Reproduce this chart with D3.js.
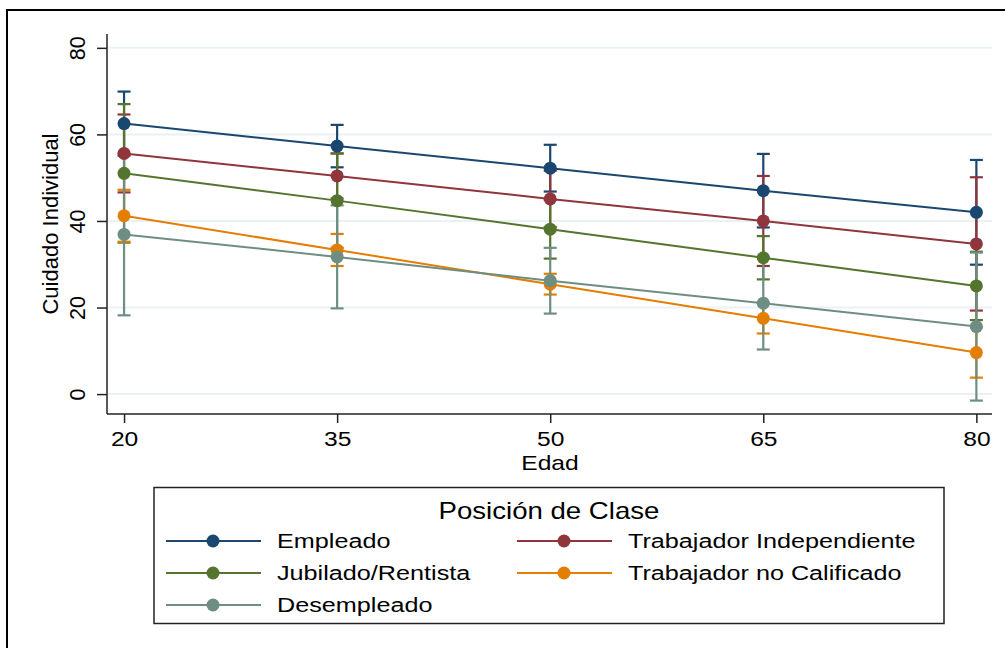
<!DOCTYPE html>
<html lang="es">
<head>
<meta charset="UTF-8">
<title>Cuidado Individual por Edad</title>
<script src="https://d3js.org/d3.v7.min.js"></script>
<style>
  body { margin: 0; background: #fff; }
  svg text { font-family: "Liberation Sans", Arial, Helvetica, sans-serif; fill: #000; }
</style>
</head>
<body>
<svg id="chart" width="1005" height="648"></svg>
<script>
// Datos
var edades = [20, 35, 50, 65, 80];
var yTicks = [0, 20, 40, 60, 80];
var clases = ["Empleado", "Trabajador Independiente", "Jubilado/Rentista", "Trabajador no Calificado", "Desempleado"];
var colores = ["#1a476f", "#90353b", "#55752f", "#e37e00", "#6e8e84"];

// valores predichos por clase
var empleado    = [62.5, 57.3, 52.2, 47.0, 42.0];
var independ    = [55.6, 50.4, 45.1, 40.0, 34.7];
var jubilado    = [51.0, 44.7, 38.1, 31.5, 25.0];
var noCalif     = [41.2, 33.3, 25.4, 17.5, 9.6];
var desempleado = [36.9, 31.7, 26.2, 21.0, 15.6];

// semiancho del intervalo de confianza
var ciEmpleado    = [7.4, 4.9, 5.4, 8.5, 12.1];
var ciIndepend    = [9.0, 5.2, 6.5, 10.4, 15.4];
var ciJubilado    = [16.0, 10.9, 6.8, 5.0, 7.9];
var ciNoCalif     = [6.0, 3.7, 2.4, 3.5, 5.8];
var ciDesempleado = [18.7, 11.9, 7.6, 10.7, 17.1];

var medias = [empleado, independ, jubilado, noCalif, desempleado];
var cis = [ciEmpleado, ciIndepend, ciJubilado, ciNoCalif, ciDesempleado];

var series = clases.map(function (c, i) {
    return {
        nombre: c,
        color: colores[i],
        puntos: edades.map(function (e, j) {
            return { x: e, y: medias[i][j], lo: medias[i][j] - cis[i][j], hi: medias[i][j] + cis[i][j] };
        })
    };
});

var svg = d3.select("#chart");

// marco exterior
svg.append("path")
    .attr("d", "M7,660 L7,10 L1010,10")
    .attr("fill", "none")
    .attr("stroke", "#000")
    .attr("stroke-width", 2);

// escalas
var x = d3.scaleLinear().domain([18.8, 81.1]).range([107, 992]);
var y = d3.scaleLinear().domain([-4.6, 83.2]).range([414, 34]);

// lineas de cuadricula
svg.append("g").selectAll("line")
    .data(yTicks)
    .enter().append("line")
    .attr("x1", 108).attr("x2", 992)
    .attr("y1", function (d) { return y(d); })
    .attr("y2", function (d) { return y(d); })
    .attr("stroke", "#eaf1f4")
    .attr("stroke-width", 2);

// eje Y
var ejeY = svg.append("g")
    .attr("transform", "translate(107,0)")
    .call(d3.axisLeft(y).tickValues(yTicks).tickSize(10).tickFormat(d3.format("d")));
ejeY.select(".domain").attr("stroke", "#222").attr("stroke-width", 1.5).attr("d", "M0,34V414");
ejeY.selectAll(".tick line").attr("stroke", "#222").attr("stroke-width", 1.5);
ejeY.selectAll(".tick text")
    .attr("x", 0).attr("y", 0).attr("dy", null)
    .attr("transform", "translate(-29,0) rotate(-90)")
    .attr("text-anchor", "middle")
    .attr("dominant-baseline", "central")
    .style("font-size", "21.5px");

// eje X
var ejeX = svg.append("g")
    .attr("transform", "translate(0,414)")
    .call(d3.axisBottom(x).tickValues(edades).tickSize(9).tickFormat(d3.format("d")));
ejeX.select(".domain").attr("stroke", "#222").attr("stroke-width", 1.5).attr("d", "M107,0H992");
ejeX.selectAll(".tick line").attr("stroke", "#222").attr("stroke-width", 1.5);
ejeX.selectAll(".tick text")
    .attr("y", 0).attr("dy", null)
    .attr("transform", "translate(0,25) scale(1.2,1)")
    .attr("dominant-baseline", "central")
    .style("font-size", "20.5px");

// titulos de ejes
svg.append("text")
    .attr("transform", "translate(550,463) scale(1.2,1)")
    .attr("text-anchor", "middle")
    .attr("dominant-baseline", "central")
    .style("font-size", "20.5px")
    .text("Edad");

svg.append("text")
    .attr("transform", "translate(50,224) rotate(-90)")
    .attr("text-anchor", "middle")
    .attr("dominant-baseline", "central")
    .style("font-size", "22px")
    .text("Cuidado Individual");

// intervalos de confianza (primero todos)
var capW = 6.5;
series.forEach(function (s) {
    var g = svg.append("g").attr("stroke", s.color).attr("stroke-width", 2.2).attr("fill", "none");
    g.selectAll(".bar").data(s.puntos).enter().append("line")
        .attr("x1", function (d) { return x(d.x); })
        .attr("x2", function (d) { return x(d.x); })
        .attr("y1", function (d) { return y(d.lo); })
        .attr("y2", function (d) { return y(d.hi); });
    g.selectAll(".capHi").data(s.puntos).enter().append("line")
        .attr("x1", function (d) { return x(d.x) - capW; })
        .attr("x2", function (d) { return x(d.x) + capW; })
        .attr("y1", function (d) { return y(d.hi); })
        .attr("y2", function (d) { return y(d.hi); });
    g.selectAll(".capLo").data(s.puntos).enter().append("line")
        .attr("x1", function (d) { return x(d.x) - capW; })
        .attr("x2", function (d) { return x(d.x) + capW; })
        .attr("y1", function (d) { return y(d.lo); })
        .attr("y2", function (d) { return y(d.lo); });
});

// lineas y puntos
var linea = d3.line().x(function (d) { return x(d.x); }).y(function (d) { return y(d.y); });
series.forEach(function (s) {
    svg.append("path")
        .datum(s.puntos)
        .attr("d", linea)
        .attr("fill", "none")
        .attr("stroke", s.color)
        .attr("stroke-width", 2);
    svg.append("g").selectAll("circle")
        .data(s.puntos)
        .enter().append("circle")
        .attr("cx", function (d) { return x(d.x); })
        .attr("cy", function (d) { return y(d.y); })
        .attr("r", 6.5)
        .attr("fill", s.color);
});

// leyenda
var leyenda = svg.append("g");
leyenda.append("rect")
    .attr("x", 154).attr("y", 487.5)
    .attr("width", 790).attr("height", 136)
    .attr("fill", "#fff")
    .attr("stroke", "#222")
    .attr("stroke-width", 1.5);

leyenda.append("text")
    .attr("transform", "translate(549,511) scale(1.2,1)")
    .attr("text-anchor", "middle")
    .attr("dominant-baseline", "central")
    .style("font-size", "23px")
    .text("Posición de Clase");

var colX = [166, 517];
var filaY = [541, 573, 605];
series.forEach(function (s, i) {
    var cx = colX[i % 2], cy = filaY[Math.floor(i / 2)];
    leyenda.append("line")
        .attr("x1", cx).attr("x2", cx + 95)
        .attr("y1", cy).attr("y2", cy)
        .attr("stroke", s.color).attr("stroke-width", 2);
    leyenda.append("circle")
        .attr("cx", cx + 47).attr("cy", cy).attr("r", 6.5)
        .attr("fill", s.color);
    leyenda.append("text")
        .attr("transform", "translate(" + (cx + 111) + "," + cy + ") scale(1.2,1)")
        .attr("dominant-baseline", "central")
        .style("font-size", "21px")
        .text(s.nombre);
});
</script>
</body>
</html>
